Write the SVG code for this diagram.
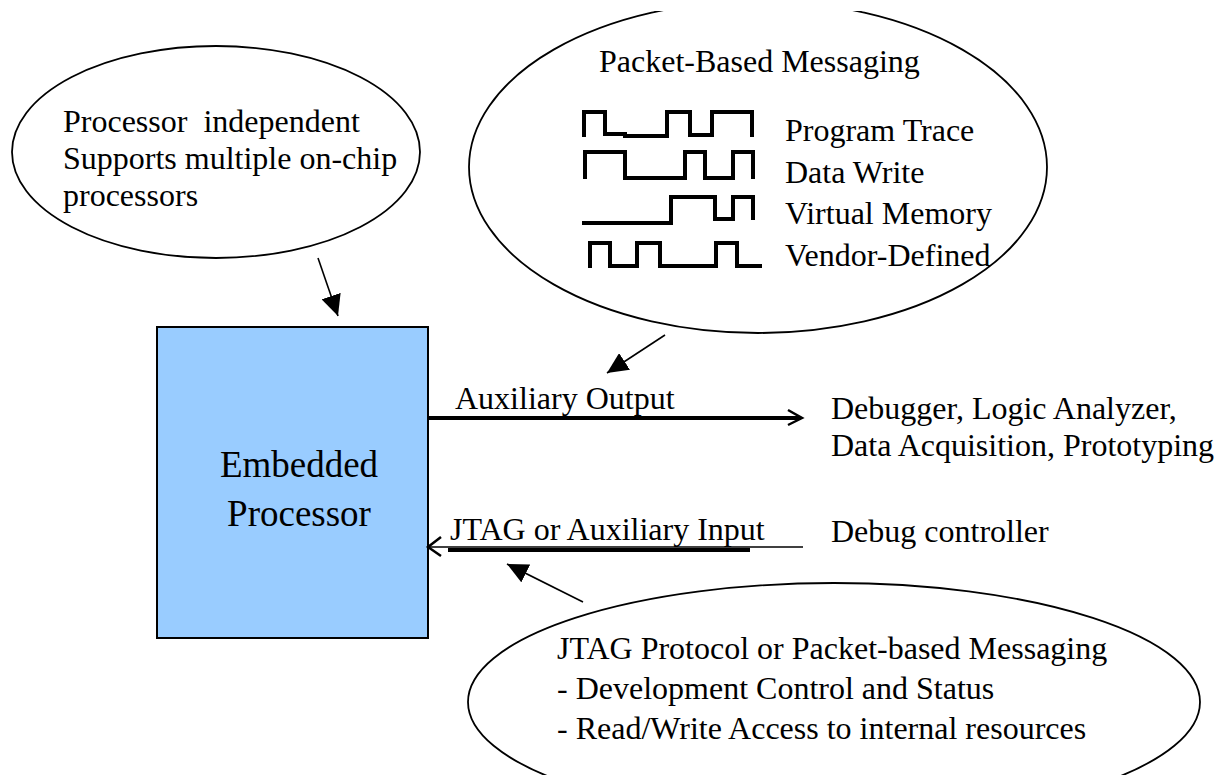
<svg xmlns="http://www.w3.org/2000/svg" width="1222" height="775" viewBox="0 0 1222 775">
<style>
.t{font-family:"Liberation Serif","Times New Roman",serif;font-size:32px;fill:#000}
.big{font-size:37px}
.ell{fill:none;stroke:#000;stroke-width:1.8}
.wave{fill:none;stroke:#000;stroke-width:4;stroke-linejoin:miter;stroke-linecap:square}
.thin{stroke:#000;stroke-width:1.6;fill:none}
.thick{stroke:#000;stroke-width:4;fill:none}
.open{fill:none;stroke:#000;stroke-width:2.5}
</style>
<defs>
<marker id="tri" markerUnits="userSpaceOnUse" markerWidth="22" markerHeight="20" refX="21" refY="10" orient="auto">
<path d="M0,0 L21,10 L0,20 z" fill="#000"/>
</marker>
<clipPath id="topclip"><rect x="0" y="11" width="1222" height="764"/></clipPath>
</defs>
<rect width="1222" height="775" fill="#fff"/>

<g id="node-processor">
<rect x="157" y="327" width="271" height="311" fill="#99CCFF" stroke="#000" stroke-width="2"/>
<text class="t big" x="299" y="477" text-anchor="middle">Embedded</text>
<text class="t big" x="299" y="526" text-anchor="middle">Processor</text>
</g>

<g id="node-features">
<ellipse class="ell" cx="216" cy="152" rx="204" ry="106"/>
<text class="t" x="63" y="132" xml:space="preserve">Processor  independent</text>
<text class="t" x="63" y="169">Supports multiple on-chip</text>
<text class="t" x="63" y="206">processors</text>
</g>

<g id="node-messaging">
<ellipse class="ell" cx="758" cy="167" rx="289" ry="166" clip-path="url(#topclip)"/>
<text class="t" x="599" y="72">Packet-Based Messaging</text>
<path class="wave" d="M584,135 V112 H605 V134 H625 V136 H667 V112 H690 V135 H712 V112 H752 V135"/>
<path class="wave" d="M585,177 V152 H625 V178 H685 V152 H705 V178 H733 V152 H753 V177"/>
<path class="wave" d="M584,223 H671 V197 H715 V219 H733 V197 H753 V218"/>
<path class="wave" d="M590,266 V243 H610 V266 H637 V243 H660 V266 H716 V243 H737 V266 H760"/>
<text class="t" x="785" y="141">Program Trace</text>
<text class="t" x="785" y="183">Data Write</text>
<text class="t" x="785" y="224">Virtual Memory</text>
<text class="t" x="785" y="266">Vendor-Defined</text>
</g>

<g id="node-jtag">
<ellipse class="ell" cx="834" cy="702" rx="366" ry="119"/>
<text class="t" x="557" y="659">JTAG Protocol or Packet-based Messaging</text>
<text class="t" x="557" y="699">- Development Control and Status</text>
<text class="t" x="557" y="739">- Read/Write Access to internal resources</text>
</g>

<g id="node-tools">
<text class="t" x="831" y="419">Debugger, Logic Analyzer,</text>
<text class="t" x="831" y="456">Data Acquisition, Prototyping</text>
</g>

<g id="node-controller">
<text class="t" x="831" y="542">Debug controller</text>
</g>

<g id="connectors">
<line class="thin" x1="318" y1="258" x2="338" y2="316" marker-end="url(#tri)"/>
<line class="thin" x1="665" y1="335" x2="607" y2="373" marker-end="url(#tri)"/>
<line class="thin" x1="583" y1="602" x2="507" y2="564" marker-end="url(#tri)"/>
<line class="thick" x1="428" y1="418" x2="801" y2="418"/>
<path class="open" d="M788,410 L802,418 L788,425"/>
<text class="t" x="455" y="409">Auxiliary Output</text>
<line class="thin" x1="428" y1="547" x2="803" y2="547"/>
<line class="thick" x1="448" y1="550" x2="750" y2="550"/>
<path class="open" d="M441,537 L428,547 L441,556"/>
<text class="t" x="450" y="540">JTAG or Auxiliary Input</text>
</g>
</svg>
